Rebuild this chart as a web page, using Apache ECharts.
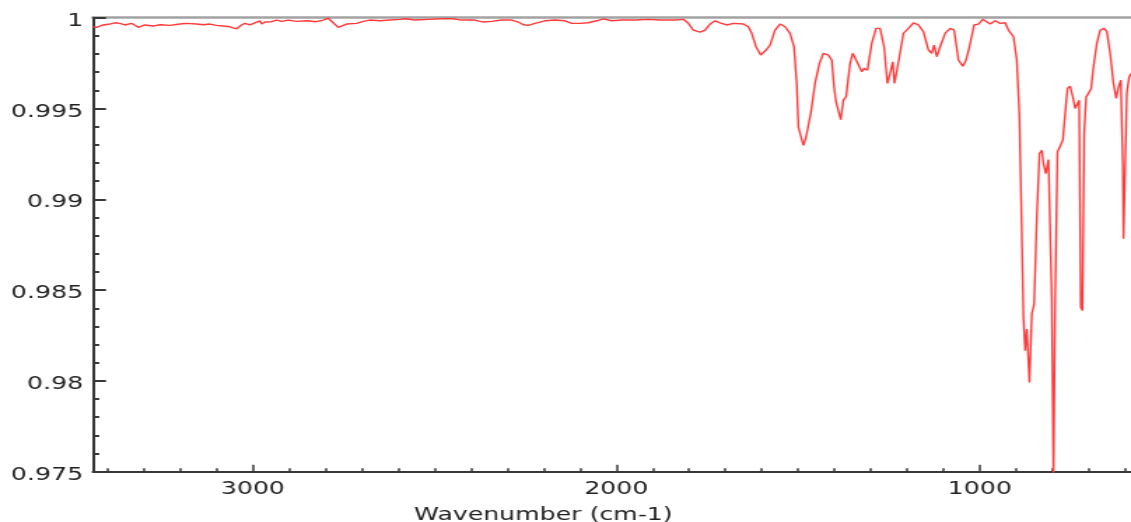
<!DOCTYPE html>
<html>
<head>
<meta charset="utf-8">
<script src="https://cdn.jsdelivr.net/npm/echarts@6/dist/echarts.min.js"></script>
<style>
html,body{margin:0;padding:0;background:#fff;overflow:hidden;}
#wrap{width:1131px;height:522px;overflow:hidden;}
#chart{width:808px;height:522px;transform:scaleX(1.39975);transform-origin:0 0;}
</style>
</head>
<body>
<div id="wrap"><div id="chart"></div></div>
<script>
// Wavenumber (cm-1)
const wavenumbers = [
3439.4,3430.3,3411.9,3393.6,3379.8,3366.0,3352.3,3333.9,3315.6,3297.2,3274.3,3256.0,3228.4,3200.9,3182.6,3155.0,3136.7,3118.3,3100.0,3081.7,3063.3,3044.9,3031.2,3022.0,3008.3,2994.5,2980.7,2976.1,2967.0,2948.6,2934.9,2921.1,2902.8,2879.8,2852.3,2824.8,2806.4,2792.7,2778.9,2765.2,2742.2,2714.7,2696.3,2678.0,2650.5,2622.9,2595.4,
2581.7,2554.1,2517.5,2480.7,2448.6,2425.7,2389.0,2366.1,2343.1,2315.6,2288.1,2269.7,2256.0,2242.2,2223.9,2196.4,2168.8,2141.3,2123.0,2100.0,2077.1,2054.1,2035.8,2012.9,1985.3,1948.7,1912.0,1875.3,1838.6,1815.6,1801.9,
1788.1,1769.8,1756.0,1742.2,1728.5,1714.7,1696.4,1678.0,1650.5,1636.8,1627.6,1615.6,1602.8,1588.1,1577.1,1563.4,1549.6,1535.8,1522.1,1511.1,1503.7,1499.1,1492.7,1485.4,1478.0,1473.4,1465.2,1453.3,1441.3,1430.3,1416.6,1407.4,1401.0,1395.5,1390.0,1382.6,1375.3,1367.9,1356.9,1349.6,1340.4,1331.3,1324.8,1318.4,1309.2,1297.3,1285.4,1274.4,1263.4,1254.2,1246.8,1239.5,1234.9,1228.5,1221.2,1210.2,1196.4,1182.6,1168.9,1155.1,1141.3,1132.2,1125.7,1118.4,1109.2,1095.5,1081.7,1070.7,1058.8,1046.8,1037.7,1028.5,1015.7,1003.7,991.8,
985.4,971.6,957.9,944.1,930.3,921.2,907.4,898.2,890.9,884.5,879.9,875.3,870.7,863.4,856.9,850.5,843.2,835.8,829.4,824.8,818.4,811.1,806.5,801.9,797.3,792.7,786.3,779.0,771.6,765.2,758.8,751.5,744.1,737.7,731.3,726.7,722.1,717.5,712.9,707.4,701.0,693.7,687.2,678.0,668.9,657.9,650.5,641.4,632.2,624.9,618.4,612.0,606.5,604.7,600.1,595.5,589.1,584.0
];
// Transmittance
const transmittance = [
0.99950,0.99947,0.99960,0.99965,0.99972,0.99969,0.99960,0.99969,0.99947,0.99960,0.99954,0.99961,0.99958,0.99965,0.99969,0.99965,0.99961,0.99965,0.99958,0.99954,0.99950,0.99939,0.99960,0.99969,0.99960,0.99972,0.99983,0.99965,0.99976,0.99978,0.99987,0.99980,0.99987,0.99980,0.99983,0.99978,0.99987,0.99997,0.99972,0.99947,0.99965,0.99969,0.99980,0.99987,0.99983,0.99987,0.99991,
0.99994,0.99987,0.99991,0.99994,0.99994,0.99987,0.99987,0.99976,0.99980,0.99987,0.99987,0.99976,0.99961,0.99958,0.99969,0.99983,0.99987,0.99983,0.99969,0.99969,0.99972,0.99983,0.99994,0.99983,0.99987,0.99987,0.99991,0.99987,0.99987,0.99991,0.99969,
0.99932,0.99921,0.99932,0.99965,0.99983,0.99972,0.99960,0.99969,0.99965,0.99950,0.99914,0.99840,0.99794,0.99822,0.99849,0.99932,0.99965,0.99950,0.99914,0.99840,0.99638,0.99398,0.99390,0.99297,0.99343,0.99334,0.99472,0.99638,0.99748,0.99804,0.99794,0.99767,0.99619,0.99536,0.99546,0.99439,0.99546,0.99564,0.99748,0.99804,0.99767,0.99730,0.99702,0.99721,0.99711,0.99859,0.99941,0.99941,0.99840,0.99638,0.99693,0.99757,0.99638,0.99647,0.99785,0.99914,0.99941,0.99972,0.99960,0.99923,0.99822,0.99804,0.99849,0.99785,0.99840,0.99914,0.99941,0.99932,0.99767,0.99733,0.99767,0.99840,0.99960,0.99965,0.99991,
0.99997,0.99965,0.99983,0.99969,0.99972,0.99932,0.99895,0.99767,0.99454,0.98810,0.98350,0.98166,0.98286,0.97991,0.98369,0.98424,0.98902,0.99252,0.99270,0.99196,0.99141,0.99219,0.99215,0.98442,0.97450,0.98442,0.99260,0.99270,0.99325,0.99472,0.99610,0.99623,0.99564,0.99500,0.99491,0.99546,0.98405,0.98387,0.99362,0.99564,0.99583,0.99610,0.99730,0.99859,0.99932,0.99941,0.99923,0.99804,0.99638,0.99555,0.99619,0.99656,0.99178,0.98783,0.99178,0.99583,0.99674,0.99693
];
const xLabelValues = [1000, 2000, 3000];
const xMinorTickValues = [600,700,800,900,1000,1100,1200,1300,1400,1500,1600,1700,1800,1900,2000,2100,2200,2300,2400,2500,2600,2700,2800,2900,3000,3100,3200,3300,3400];
const xAxisName = 'Wavenumber (cm-1)';
const xMin = 584, xMax = 3440;
const yMin = 0.975, yMax = 1, yInterval = 0.005;

const seriesData = wavenumbers.map((w, i) => [w, transmittance[i]]);

const FONT = 'DejaVu Sans';
const AXIS_COLOR = '#383838';
const chart = echarts.init(document.getElementById('chart'), null, {renderer: 'canvas'});
chart.setOption({
  animation: false,
  backgroundColor: '#ffffff',
  grid: {left: 66.4, right: 0, top: 17.7, bottom: 50.3, containLabel: false, outerBoundsMode: 'none'},
  xAxis: [
    {
      type: 'value', min: xMin, max: xMax, inverse: true, position: 'bottom',
      axisLine: {show: true, lineStyle: {color: AXIS_COLOR, width: 2}},
      axisTick: {show: true, inside: true, length: 7, customValues: xLabelValues, lineStyle: {color: AXIS_COLOR, width: 1.5}},
      axisLabel: {show: true, customValues: xLabelValues, formatter: v => String(v), margin: 9, fontSize: 18, fontFamily: FONT, color: '#222'},
      splitLine: {show: false},
      name: xAxisName, nameLocation: 'middle', nameGap: 35,
      nameTextStyle: {fontSize: 18, fontFamily: FONT, color: '#222', padding: [0, 98, 0, 0]}
    },
    {
      type: 'value', min: xMin, max: xMax, inverse: true, position: 'bottom',
      axisLine: {show: false},
      axisTick: {show: true, inside: true, length: 3.5, customValues: xMinorTickValues, lineStyle: {color: AXIS_COLOR, width: 1.5}},
      axisLabel: {show: false},
      splitLine: {show: false}
    },
    {
      type: 'value', min: xMin, max: xMax, inverse: true, position: 'top',
      axisLine: {show: true, lineStyle: {color: '#a2a2a2', width: 2.5}},
      axisTick: {show: false}, axisLabel: {show: false}, splitLine: {show: false}
    }
  ],
  yAxis: {
    type: 'value', min: yMin, max: yMax, interval: yInterval, z: 3,
    axisLine: {show: true, lineStyle: {color: AXIS_COLOR, width: 2}},
    axisTick: {show: true, inside: true, length: 9.3, lineStyle: {color: AXIS_COLOR, width: 2}},
    minorTick: {show: true, splitNumber: 5, length: 4.5, lineStyle: {color: AXIS_COLOR, width: 2}},
    axisLabel: {
      margin: 7, verticalAlign: 'middle',
      formatter: v => '{v|' + String(+(+v).toFixed(3)) + '}',
      rich: {v: {fontSize: 18, fontFamily: FONT, color: '#222', padding: [7, 0, 0, 0]}}
    },
    splitLine: {show: false}, minorSplitLine: {show: false}
  },
  series: [{
    type: 'line', xAxisIndex: 0, data: seriesData, showSymbol: false, symbol: 'none',
    clip: true, smooth: false,
    lineStyle: {color: '#ff3a3a', width: 1.4}
  }]
});
</script>
</body>
</html>
